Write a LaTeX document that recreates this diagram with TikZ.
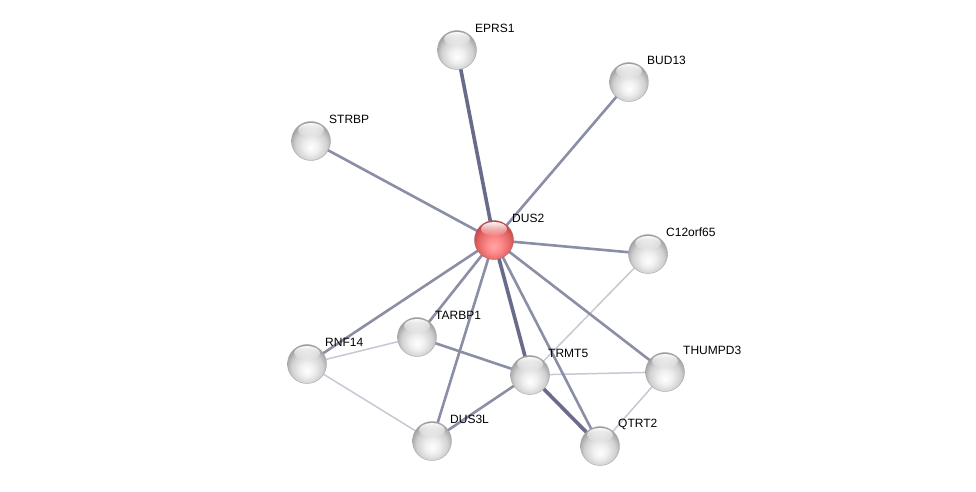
\documentclass[tikz,border=0pt]{standalone}
\usepackage{fontspec}
\setmainfont{Liberation Sans}
\usetikzlibrary{fadings}
\definecolor{edgeN}{RGB}{138,142,166}
\definecolor{edgeT}{RGB}{104,108,138}
\definecolor{edgeL}{RGB}{198,200,214}
\pgfdeclareradialshading{greyball}{\pgfpoint{0bp}{-9bp}}{%
  color(0bp)=(white); color(9bp)=(black!6); color(20bp)=(black!18);
  color(28bp)=(black!38); color(34bp)=(black!48); color(50bp)=(black!48)}
\pgfdeclareradialshading{redball}{\pgfpoint{0bp}{-9bp}}{%
  color(0bp)=(red!35!white); color(9bp)=(red!45!white); color(20bp)=(red!55!white!90!black);
  color(28bp)=(red!65!white!78!black); color(34bp)=(red!70!white!65!black); color(50bp)=(red!70!white!65!black)}
\tikzset{
  prot/.style={circle, minimum size=39pt, inner sep=0pt, shading=greyball, draw=black!35, line width=0.4pt},
  hub/.style={circle, minimum size=39pt, inner sep=0pt, shading=redball, draw=red!40!black!60, line width=0.4pt},
  shine/.style={fill=white, path fading=south, fill opacity=0.95},
  lbl/.style={anchor=west, inner sep=0pt, font=\fontsize{12pt}{14pt}\selectfont},
  en/.style={draw=edgeN, line width=2.6pt},
  et/.style={draw=edgeT, line width=3.6pt},
  el/.style={draw=edgeL, line width=1.5pt}
}
\newcommand{\shineat}[1]{\fill[shine] ([yshift=11]#1) ellipse [x radius=13, y radius=7];}
\begin{document}
\begin{tikzpicture}[x=1pt,y=-1pt]
\useasboundingbox (0,0) rectangle (976,491);
\fill[white] (0,0) rectangle (976,491);
% coordinates
\coordinate (cEPRS1) at (457,50);
\coordinate (cBUD13) at (629,82);
\coordinate (cSTRBP) at (311,141);
\coordinate (cDUS2) at (494,240);
\coordinate (cC12) at (648,254);
\coordinate (cTARBP1) at (417,337);
\coordinate (cRNF14) at (307,364);
\coordinate (cTRMT5) at (530,375);
\coordinate (cTHUMPD3) at (665,372);
\coordinate (cDUS3L) at (432,441);
\coordinate (cQTRT2) at (600,446);
% edges
\draw[el] (cRNF14) -- (cTARBP1);
\draw[el] (cRNF14) -- (cDUS3L);
\draw[el] (cTRMT5) -- (cTHUMPD3);
\draw[el] (cTRMT5) -- (cC12);
\draw[el] (cTHUMPD3) -- (cQTRT2);
\draw[en] (cDUS2) -- (cBUD13);
\draw[en] (cDUS2) -- (cSTRBP);
\draw[en] (cDUS2) -- (cC12);
\draw[en] (cDUS2) -- (cRNF14);
\draw[en] (cDUS2) -- (cTARBP1);
\draw[en] (cDUS2) -- (cDUS3L);
\draw[en] (cDUS2) -- (cQTRT2);
\draw[en] (cDUS2) -- (cTHUMPD3);
\draw[en] (cTARBP1) -- (cTRMT5);
\draw[en] (cDUS3L) -- (cTRMT5);
\draw[et] (cDUS2) -- (cEPRS1);
\draw[et] (cDUS2) -- (cTRMT5);
\draw[et] (cTRMT5) -- (cQTRT2);
% nodes
\node[prot] (EPRS1) at (cEPRS1) {};
\node[prot] (BUD13) at (cBUD13) {};
\node[prot] (STRBP) at (cSTRBP) {};
\node[hub] (DUS2) at (cDUS2) {};
\node[prot] (C12) at (cC12) {};
\node[prot] (TARBP1) at (cTARBP1) {};
\node[prot] (RNF14) at (cRNF14) {};
\node[prot] (TRMT5) at (cTRMT5) {};
\node[prot] (THUMPD3) at (cTHUMPD3) {};
\node[prot] (DUS3L) at (cDUS3L) {};
\node[prot] (QTRT2) at (cQTRT2) {};
\foreach \n in {EPRS1,BUD13,STRBP,DUS2,C12,TARBP1,RNF14,TRMT5,THUMPD3,DUS3L,QTRT2}{\shineat{\n.center}}
% labels
\node[lbl] (lEPRS1) at ([shift={(18,-22)}]cEPRS1) {EPRS1};
\node[lbl] (lBUD13) at ([shift={(18,-22)}]cBUD13) {BUD13};
\node[lbl] (lSTRBP) at ([shift={(18,-22)}]cSTRBP) {STRBP};
\node[lbl] (lDUS2) at ([shift={(18,-22)}]cDUS2) {DUS2};
\node[lbl] (lC12) at ([shift={(18,-22)}]cC12) {C12orf65};
\node[lbl] (lTARBP1) at ([shift={(18,-22)}]cTARBP1) {TARBP1};
\node[lbl] (lRNF14) at ([shift={(18,-22)}]cRNF14) {RNF14};
\node[lbl] (lTRMT5) at ([shift={(18,-22)}]cTRMT5) {TRMT5};
\node[lbl] (lTHUMPD3) at ([shift={(18,-22)}]cTHUMPD3) {THUMPD3};
\node[lbl] (lDUS3L) at ([shift={(18,-22)}]cDUS3L) {DUS3L};
\node[lbl] (lQTRT2) at ([shift={(18,-22)}]cQTRT2) {QTRT2};
\end{tikzpicture}
\end{document}
